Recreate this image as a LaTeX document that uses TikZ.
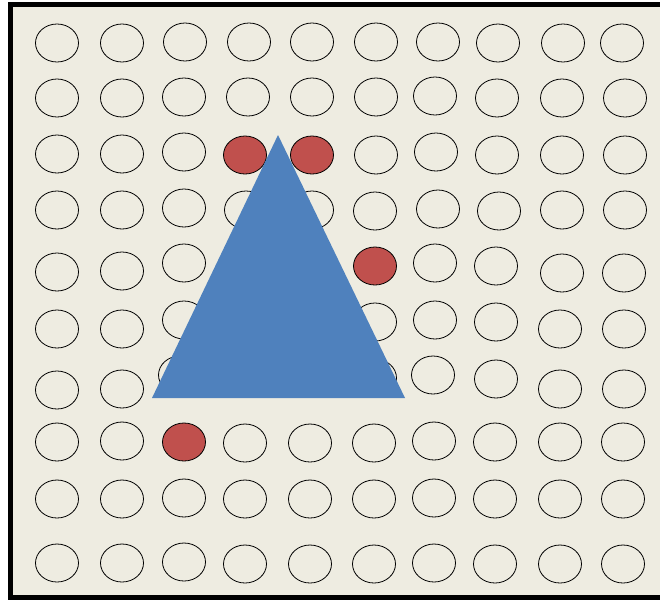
\documentclass[tikz,border=0pt]{standalone}
\usetikzlibrary{shapes.geometric}
\definecolor{bgbeige}{HTML}{EEECE1}
\definecolor{dotred}{HTML}{C0504D}
\definecolor{triblue}{HTML}{4F81BD}
\tikzset{
  ell/.style={ellipse, draw=black, line width=0.8pt, minimum width=43pt, minimum height=38pt, inner sep=0pt},
  redell/.style={ell, fill=dotred},
  frame/.style={draw=black, line width=5pt, fill=bgbeige}
}
\begin{document}
\begin{tikzpicture}[x=1pt,y=-1pt]
\useasboundingbox (0,0) rectangle (660,600);
\clip (0,0) rectangle (660,600);
\fill[white] (0,0) rectangle (660,600);
\draw[frame] (10.5,4.5) rectangle (700,597.5);
% row 1
\foreach \px/\py [count=\i] in {57/43,122/43,185/42,249/42,312/42,376/42,438/42,498/43,563/43,622/43}
  \node[ell] (r1c\i) at (\px,\py) {};
% row 2
\foreach \px/\py [count=\i] in {57/98,122/98,184/97,248/97,312/97,376/97,435/96,497/98,562/98,625/98}
  \node[ell] (r2c\i) at (\px,\py) {};
% row 3
\foreach \px/\py [count=\i] in {57/154,122/154,184/152,376/155,436/152,497/155,562/155,625/155}
  \node[ell] (r3c\i) at (\px,\py) {};
\node[redell] (red1) at (245,155) {};
\node[redell] (red2) at (312,155) {};
% row 4
\foreach \px/\py [count=\i] in {57/210,122/210,184/208,246/210,312/210,375/211,438/209,499/211,562/210,625/210}
  \node[ell] (r4c\i) at (\px,\py) {};
% row 5
\foreach \px/\py [count=\i] in {57/272,122/271,184/263,246/266,312/266,435/263,496/266,562/273,624/273}
  \node[ell] (r5c\i) at (\px,\py) {};
\node[redell] (red3) at (375,266) {};
% row 6
\foreach \px/\py [count=\i] in {57/329,122/329,184/320,246/322,312/322,375/322,435/320,496/322,560/329,624/329}
  \node[ell] (r6c\i) at (\px,\py) {};
% row 7
\foreach \px/\py [count=\i] in {57/390,122/389,180/375,246/378,312/378,375/378,433/375,496/379,560/389,624/389}
  \node[ell] (r7c\i) at (\px,\py) {};
% row 8
\foreach \px/\py [count=\i] in {57/442,122/441,245/443,310/443,374/443,434/441,495/442,560/442,623/442}
  \node[ell] (r8c\i) at (\px,\py) {};
\node[redell] (red4) at (184,442) {};
% row 9
\foreach \px/\py [count=\i] in {57/499,122/499,184/498,245/499,310/499,374/499,434/498,495/499,560/499,623/499}
  \node[ell] (r9c\i) at (\px,\py) {};
% row 10
\foreach \px/\py [count=\i] in {57/563,122/563,184/562,245/564,310/564,374/564,434/563,495/564,560/564,623/564}
  \node[ell] (r10c\i) at (\px,\py) {};
% triangle
\coordinate (apex) at (278,135);
\coordinate (bl) at (152,398);
\coordinate (br) at (405,398);
\fill[triblue] (apex) -- (bl) -- (br) -- cycle;
\end{tikzpicture}
\end{document}
